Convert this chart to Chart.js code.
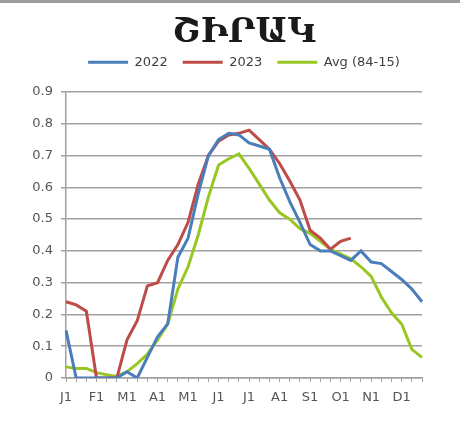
<!DOCTYPE html>
<html>
<head>
<meta charset="utf-8">
<script src="https://cdn.jsdelivr.net/npm/chart.js@4/dist/chart.umd.min.js"></script>
<style>
  html, body { margin: 0; padding: 0; background: #fff; }
  #wrap { position: relative; width: 460px; height: 429px; }
  #wrap:before { content: ""; position: absolute; left: 0; top: 0; width: 460px; height: 3px; background: #9c9c9c; }
</style>
</head>
<body>
<div id="wrap"><canvas id="chart" width="460" height="429"></canvas></div>
<script>
// 36 ten-day periods, label on the first of each month
const months = ['J1', 'F1', 'M1', 'A1', 'M1', 'J1', 'J1', 'A1', 'S1', 'O1', 'N1', 'D1'];
const periods = [];
months.forEach(m => { periods.push(m, m + '.2', m + '.3'); });

const y2022 = [0.15, 0, 0, 0, 0, 0, 0.02, 0, 0.065, 0.13, 0.17, 0.38,
               0.44, 0.58, 0.70, 0.75, 0.77, 0.765, 0.74, 0.73, 0.72, 0.63,
               0.555, 0.49, 0.42, 0.40, 0.40, 0.385, 0.37, 0.40, 0.365, 0.36,
               0.335, 0.31, 0.28, 0.24];
const y2023 = [0.24, 0.23, 0.21, 0, 0, 0, 0.12, 0.18, 0.29, 0.30, 0.37, 0.42,
               0.49, 0.61, 0.70, 0.745, 0.765, 0.77, 0.78, 0.75, 0.72, 0.675,
               0.62, 0.56, 0.465, 0.44, 0.405, 0.43, 0.44, null, null, null,
               null, null, null, null];
const yAvg = [0.035, 0.03, 0.03, 0.017, 0.01, 0.005, 0.02, 0.045, 0.075, 0.12, 0.17, 0.28,
              0.35, 0.45, 0.57, 0.67, 0.69, 0.705, 0.66, 0.61, 0.56, 0.52,
              0.50, 0.47, 0.455, 0.43, 0.405, 0.39, 0.375, 0.35, 0.32, 0.255,
              0.205, 0.17, 0.09, 0.065];

const yTicks = [0, 0.1, 0.2, 0.3, 0.4, 0.5, 0.6, 0.7, 0.8, 0.9];

const tickFont = { family: 'DejaVu Sans', size: 13 };

const ctx = document.getElementById('chart').getContext('2d');
new Chart(ctx, {
    type: 'line',
    data: {
        labels: periods,
        datasets: [{
            label: '2022',
            data: y2022,
            borderColor: '#4a7ebb',
            backgroundColor: '#4a7ebb',
            borderWidth: 3,
            pointRadius: 0,
            tension: 0
        }, {
            label: '2023',
            data: y2023,
            borderColor: '#be4b48',
            backgroundColor: '#be4b48',
            borderWidth: 3,
            pointRadius: 0,
            tension: 0
        }, {
            label: 'Avg (84-15)',
            data: yAvg,
            borderColor: '#98c723',
            backgroundColor: '#98c723',
            borderWidth: 3,
            pointRadius: 0,
            tension: 0
        }]
    },
    options: {
        responsive: false,
        animation: false,
        layout: { padding: { left: 0, right: 38, top: 0, bottom: 20 } },
        plugins: {
            title: {
                display: true,
                fullSize: false,
                text: 'ՇԻՐԱԿ',
                color: '#1a1a1a',
                font: { family: 'DejaVu Serif', size: 34, weight: 'bold' },
                padding: { top: 13, bottom: -13 }
            },
            // empty spacer between legend and plot
            subtitle: {
                display: true,
                text: '',
                weight: 500,
                font: { size: 1 },
                padding: { top: 12, bottom: 0 }
            },
            legend: {
                fullSize: false,
                labels: {
                    usePointStyle: true,
                    pointStyle: 'line',
                    pointStyleWidth: 40,
                    color: '#404040',
                    font: { family: 'DejaVu Sans', size: 13 },
                    padding: 15
                }
            },
            tooltip: { enabled: false }
        },
        scales: {
            x: {
                grid: { drawOnChartArea: false, drawTicks: true, tickLength: 4, color: '#a0a0a0' },
                border: { color: '#a0a0a0', width: 1.5 },
                ticks: {
                    autoSkip: false,
                    maxRotation: 0,
                    padding: 8,
                    color: '#555',
                    font: tickFont,
                    callback: (v, i) => (i % 3 === 0 ? months[i / 3] : '')
                },
                afterFit: s => { s.height = 31; }
            },
            y: {
                min: 0,
                max: 0.9,
                afterBuildTicks: s => { s.ticks = yTicks.map(v => ({ value: v })); },
                grid: { color: '#a0a0a0', lineWidth: 1.5, tickLength: 5 },
                border: { color: '#a0a0a0', width: 1.5 },
                ticks: {
                    padding: 8,
                    color: '#555',
                    font: tickFont,
                    callback: v => String(Math.round(v * 10) / 10)
                },
                afterFit: s => { s.width = 66; }
            }
        }
    }
});
</script>
</body>
</html>
